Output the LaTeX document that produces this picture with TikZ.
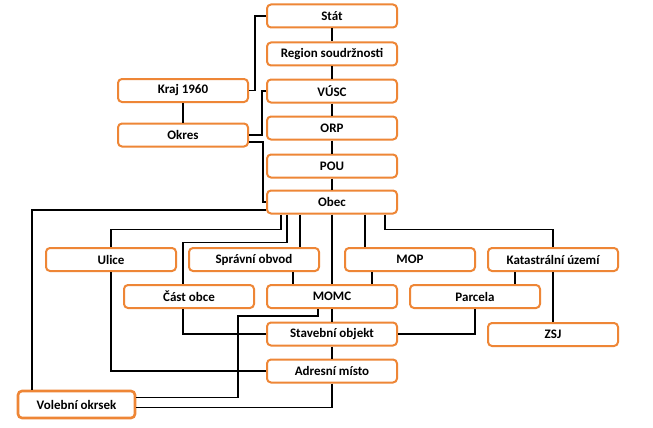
\documentclass[tikz,border=0pt]{standalone}
\usepackage{fontspec}
\setmainfont{Carlito}
\usetikzlibrary{calc}
\definecolor{boxorange}{HTML}{EE8636}
\begin{document}
\begin{tikzpicture}[x=1pt,y=-1pt,
  box/.style={draw=boxorange, line width=2pt, rounded corners=4pt, fill=white,
    minimum width=130pt, minimum height=23pt, inner sep=0pt,
    font=\bfseries\fontsize{13}{15}\selectfont},
  link/.style={line width=1.9pt, draw=black}]
\useasboundingbox[fill=white] (0,0) rectangle (653,428);
\node[box] (stat) at (332,16) {Stát};
\node[box] (region) at (332,54) {Region soudržnosti};
\node[box] (vusc) at (332,91) {VÚSC};
\node[box] (orp) at (332,128) {ORP};
\node[box] (pou) at (332,166) {POU};
\node[box] (obec) at (332,202) {Obec};
\node[box] (kraj) at (183,90.5) {Kraj 1960};
\node[box] (okres) at (183,135) {Okres};
\node[box] (ulice) at (111,259.5) {Ulice};
\node[box] (sprav) at (254,259.5) {Správní obvod};
\node[box] (mop) at (410,259.5) {MOP};
\node[box] (kat) at (553,259.5) {Katastrální území};
\node[box] (cast) at (189,296.5) {Část obce};
\node[box] (momc) at (332,296.5) {MOMC};
\node[box] (parc) at (475,296.5) {Parcela};
\node[box] (stav) at (332,334) {Stavební objekt};
\node[box] (zsj) at (553,334.5) {ZSJ};
\node[box] (adr) at (332,371) {Adresní místo};
\node[box, minimum width=117pt, minimum height=27pt, line width=2.6pt] (vol) at (76.5,404.5) {Volební okrsek};
% vertical chain
\draw[link] (stat.south) -- (region.north);
\draw[link] (region.south) -- (vusc.north);
\draw[link] (vusc.south) -- (orp.north);
\draw[link] (orp.south) -- (pou.north);
\draw[link] (pou.south) -- (obec.north);
\draw[link] (kraj.south) -- (okres.north);
\draw[link] (kraj.east) -- ++(6,0) |- (stat.west);
\draw[link] (okres.east) -- ++(13,0) |- (vusc.west);
\draw[link] ($(okres.east)+(0,7)$) -- ++(14,0) |- (obec.west);
% from Obec
\coordinate (ob1) at ($(obec.south)+(-51,0)$);
\coordinate (ob2) at ($(obec.south)+(-45,0)$);
\coordinate (ob3) at ($(obec.south)+(-32,0)$);
\coordinate (ob5) at ($(obec.south)+(33,0)$);
\coordinate (ob6) at ($(obec.south)+(53,0)$);
\draw[link] ($(obec.west)+(0,8)$) -| ($(vol.north west)+(15,0)$);
\draw[link] (ob1) -- ++(0,15) -| (ulice.north);
\draw[link] (ob2) -- ++(0,28) -| ($(cast.north)+(-6,0)$);
\draw[link] (ob3) -- (ob3 |- sprav.north);
\draw[link] (obec.south) -- (momc.north);
\draw[link] (ob5) -- (ob5 |- mop.north);
\draw[link] (ob6) -- ++(0,15) -| (kat.north);
% second level
\coordinate (s1) at ($(sprav.south)+(39,0)$);
\draw[link] (s1) -- (s1 |- momc.north);
\coordinate (mp1) at ($(mop.south)+(-38,0)$);
\draw[link] (mp1) -- (mp1 |- momc.north);
\coordinate (k1) at ($(kat.south)+(-38,0)$);
\draw[link] (k1) -- (k1 |- parc.north);
\draw[link] (kat.south) -- (zsj.north);
\draw[link] (ulice.south) |- (adr.west);
\draw[link] ($(cast.south)+(-6,0)$) |- (stav.west);
\draw[link] (parc.south) |- (stav.east);
\draw[link] (momc.south) -- (stav.north);
\draw[link] (stav.south) -- (adr.north);
\draw[link] (adr.south) |- ($(vol.east)+(0,3)$);
\coordinate (m1) at ($(momc.south)+(-14,0)$);
\draw[link] (m1) -- ++(0,7) -- ++(-80,0) |- ($(vol.east)+(0,-7)$);
\end{tikzpicture}
\end{document}
